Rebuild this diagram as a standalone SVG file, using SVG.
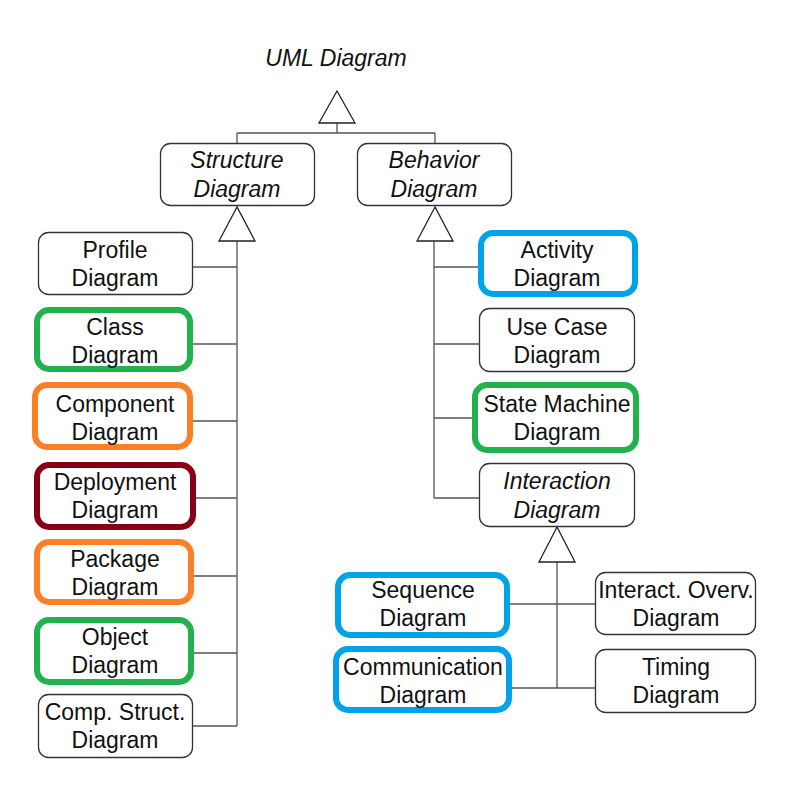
<svg xmlns="http://www.w3.org/2000/svg" width="788" height="787" viewBox="0 0 788 787">
<style>
.box{fill:#fff;stroke:#333;stroke-width:1.3}
.cb{fill:#fff;stroke-width:6}
.g{stroke:#22b14c}.o{stroke:#ff7f27}.r{stroke:#880015}.b{stroke:#00a2e8}
.t{font-family:"Liberation Sans",Arial,sans-serif;font-size:23px;fill:#111;text-anchor:middle}
.i{font-style:italic}
.ln{fill:none;stroke:#555;stroke-width:1.3}
.tri{fill:#fff;stroke:#222;stroke-width:1.3}
</style>
<rect width="788" height="787" fill="#fff"/>
<g id="connectors">
<path class="ln" d="M337 123V133M237 133H435M237 133V143M435 133V143"/>
<path class="ln" d="M237 241V726M192 267H237M192 344H237M192 421H237M192 498H237M192 576H237M192 653H237M192 726H237"/>
<path class="ln" d="M434 241V498M434 267H478M434 344H479M434 418H474M434 498H479"/>
<path class="ln" d="M557 562V688M510 604H595M510 688H595"/>
<polygon class="tri" points="337,91 319,123 355,123"/>
<polygon class="tri" points="237,207 219,241 255,241"/>
<polygon class="tri" points="435,207 417,241 453,241"/>
<polygon class="tri" points="557,527 539,562 575,562"/>
</g>
<g id="uml"><text class="t i" x="336" y="66">UML Diagram</text></g>
<g id="structure"><rect class="box" x="160.5" y="143.5" width="154" height="62" rx="10"/><text class="t i" x="237" y="168">Structure</text><text class="t i" x="237" y="197">Diagram</text></g>
<g id="behavior"><rect class="box" x="357.5" y="143.5" width="154" height="62" rx="10"/><text class="t i" x="434" y="168">Behavior</text><text class="t i" x="434" y="197">Diagram</text></g>
<g id="profile"><rect class="box" x="38.5" y="232.5" width="154" height="62" rx="10"/><text class="t" x="115" y="258">Profile</text><text class="t" x="115" y="286">Diagram</text></g>
<g id="class"><rect class="cb g" x="37" y="310" width="153" height="59" rx="12"/><text class="t" x="115" y="335">Class</text><text class="t" x="115" y="363">Diagram</text></g>
<g id="component"><rect class="cb o" x="35" y="385" width="155" height="62" rx="12"/><text class="t" x="115" y="412">Component</text><text class="t" x="115" y="440">Diagram</text></g>
<g id="deployment"><rect class="cb r" x="37" y="465" width="156" height="62" rx="12"/><text class="t" x="115" y="490">Deployment</text><text class="t" x="115" y="518">Diagram</text></g>
<g id="package"><rect class="cb o" x="37" y="542" width="154" height="60" rx="12"/><text class="t" x="115" y="567">Package</text><text class="t" x="115" y="595">Diagram</text></g>
<g id="object"><rect class="cb g" x="37" y="620" width="154" height="62" rx="12"/><text class="t" x="115" y="645">Object</text><text class="t" x="115" y="673">Diagram</text></g>
<g id="compstruct"><rect class="box" x="38.5" y="694.5" width="154" height="63" rx="10"/><text class="t" x="115" y="720">Comp. Struct.</text><text class="t" x="115" y="748">Diagram</text></g>
<g id="activity"><rect class="cb b" x="481" y="233" width="154" height="61" rx="12"/><text class="t" x="557" y="258">Activity</text><text class="t" x="557" y="286">Diagram</text></g>
<g id="usecase"><rect class="box" x="479.5" y="308.5" width="155" height="63" rx="10"/><text class="t" x="557" y="335">Use Case</text><text class="t" x="557" y="363">Diagram</text></g>
<g id="statemachine"><rect class="cb g" x="475" y="385" width="161" height="65" rx="12"/><text class="t" x="557" y="412">State Machine</text><text class="t" x="557" y="440">Diagram</text></g>
<g id="interaction"><rect class="box" x="479.5" y="463.5" width="155" height="63" rx="10"/><text class="t i" x="557" y="489">Interaction</text><text class="t i" x="557" y="518">Diagram</text></g>
<g id="sequence"><rect class="cb b" x="338" y="575" width="169" height="60" rx="12"/><text class="t" x="423" y="598">Sequence</text><text class="t" x="423" y="626">Diagram</text></g>
<g id="communication"><rect class="cb b" x="336" y="649" width="173" height="61" rx="12"/><text class="t" x="423" y="675">Communication</text><text class="t" x="423" y="703">Diagram</text></g>
<g id="interactoverv"><rect class="box" x="595.5" y="572.5" width="160" height="62" rx="10"/><text class="t" x="676" y="598">Interact. Overv.</text><text class="t" x="676" y="626">Diagram</text></g>
<g id="timing"><rect class="box" x="595.5" y="649.5" width="160" height="63" rx="10"/><text class="t" x="676" y="675">Timing</text><text class="t" x="676" y="703">Diagram</text></g>
</svg>
